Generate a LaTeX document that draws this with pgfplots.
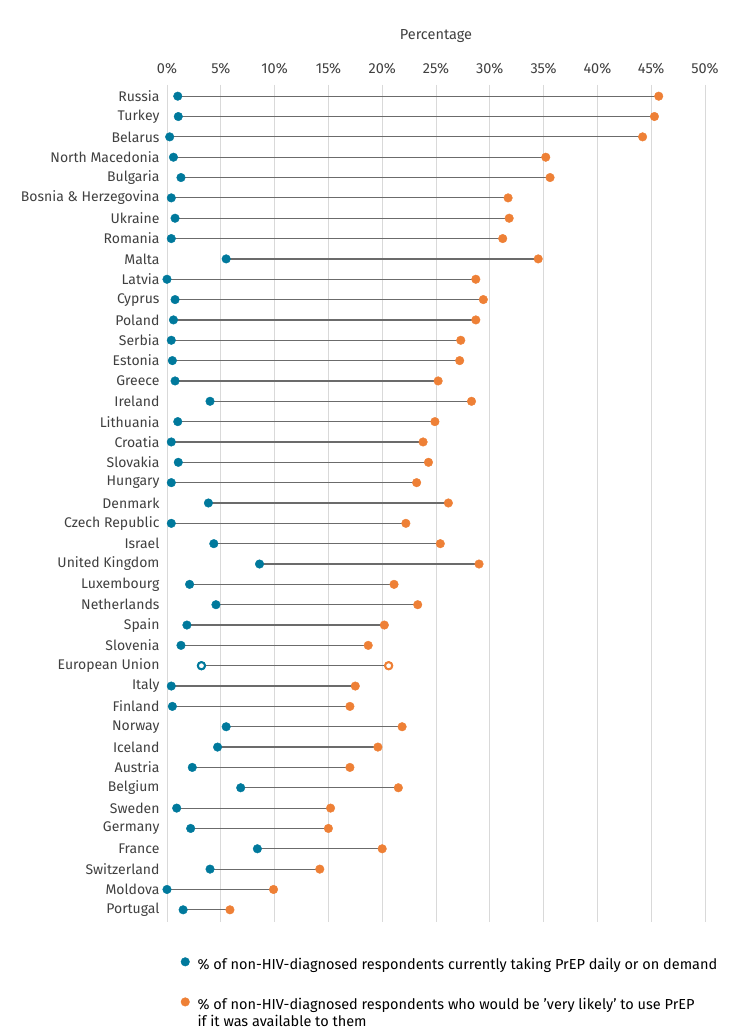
\documentclass[border=0pt]{standalone}
\usepackage{fontspec}
\setmainfont{Fira Sans}
\usepackage{pgfplots}
\usepackage{pgfplotstable}
\pgfplotsset{compat=1.18}

\definecolor{tealdot}{HTML}{00799C}
\definecolor{orangedot}{HTML}{EE8036}
\definecolor{linkgray}{HTML}{6B6B6B}
\definecolor{gridgray}{HTML}{D9D9D9}
\definecolor{labelgray}{HTML}{404040}

% row, country, currently taking PrEP, very likely to use PrEP
\pgfplotstableread[col sep=comma]{
row,name,now,likely
0,Russia,1.0,45.7
1,Turkey,1.05,45.3
2,Belarus,0.25,44.2
3,North Macedonia,0.6,35.2
4,Bulgaria,1.3,35.6
5,Bosnia \& Herzegovina,0.4,31.7
6,Ukraine,0.75,31.8
7,Romania,0.4,31.2
8,Malta,5.5,34.5
9,Latvia,0.0,28.7
10,Cyprus,0.75,29.4
11,Poland,0.6,28.7
12,Serbia,0.4,27.3
13,Estonia,0.5,27.2
14,Greece,0.75,25.2
15,Ireland,4.0,28.3
16,Lithuania,1.0,24.9
17,Croatia,0.4,23.8
18,Slovakia,1.05,24.3
19,Hungary,0.4,23.2
20,Denmark,3.85,26.15
21,Czech Republic,0.4,22.2
22,Israel,4.35,25.4
23,United Kingdom,8.6,29.0
24,Luxembourg,2.1,21.1
25,Netherlands,4.55,23.3
26,Spain,1.85,20.2
27,Slovenia,1.3,18.7
28,European Union,3.2,20.6
29,Italy,0.4,17.5
30,Finland,0.5,17.0
31,Norway,5.5,21.85
32,Iceland,4.7,19.6
33,Austria,2.35,17.0
34,Belgium,6.85,21.5
35,Sweden,0.9,15.2
36,Germany,2.2,15.0
37,France,8.4,20.0
38,Switzerland,4.0,14.2
39,Moldova,0.0,9.9
40,Portugal,1.5,5.85
}\prepdata

\pgfplotstableread[col sep=comma]{
row,now,likely
28,3.2,20.6
}\eudata

\begin{document}
\begin{tikzpicture}
\begin{axis}[
  at={(0,0)}, anchor=south west,
  scale only axis,
  width=538pt, height=837pt,
  xmin=0, xmax=50,
  ymin=-0.55, ymax=40.6,
  y dir=reverse,
  axis line style={draw=none},
  xtick={0,5,...,50},
  xticklabel={\pgfmathprintnumber{\tick}\%},
  xticklabel pos=top,
  xlabel={Percentage},
  xlabel style={font=\fontsize{14.5}{16}\selectfont, color=labelgray, yshift=13pt},
  every x tick label/.style={font=\fontsize{14.5}{16}\selectfont, color=labelgray, yshift=8pt},
  ytick={0,...,40},
  yticklabels from table={\prepdata}{name},
  every y tick label/.style={font=\fontsize{14}{16}\selectfont, color=labelgray, xshift=-4pt},
  /pgf/number format/assume math mode=true,
  major tick length=0pt,
  xmajorgrids,
  major grid style={gridgray, line width=0.8pt},
  clip=false,
  legend style={
    at={(0.02,-0.038)}, anchor=north west,
    draw=none, fill=none,
    font=\fontsize{14.5}{17}\selectfont,
    row sep=23pt,
    cells={anchor=base west},
    /tikz/every odd column/.append style={column sep=6pt},
  },
  legend image post style={yshift=2.6pt},
  legend cell align=left,
]
\addplot[linkgray, line width=1.2pt, forget plot,
  quiver={u=\thisrow{likely}-\thisrow{now}, v=0}]
  table[x=now, y=row] {\prepdata};
\addplot[only marks, mark=*, mark size=4.3pt, color=tealdot]
  table[x=now, y=row] {\prepdata};
\addlegendentry{\% of non-HIV-diagnosed respondents currently taking PrEP daily or on demand}
\addplot[only marks, mark=*, mark size=4.3pt, color=orangedot]
  table[x=likely, y=row] {\prepdata};
\addlegendentry{\begin{tabular}[t]{@{}l@{}}\% of non-HIV-diagnosed respondents who would be 'very likely' to use PrEP\\if it was available to them\end{tabular}}
\addplot[only marks, mark=*, mark size=3.6pt, forget plot,
  mark options={draw=tealdot, fill=white, line width=2pt}]
  table[x=now, y=row] {\eudata};
\addplot[only marks, mark=*, mark size=3.6pt, forget plot,
  mark options={draw=orangedot, fill=white, line width=2pt}]
  table[x=likely, y=row] {\eudata};
\end{axis}
\pgfresetboundingbox
\path (-167pt,-114pt) rectangle (576pt,922pt);
\end{tikzpicture}
\end{document}
